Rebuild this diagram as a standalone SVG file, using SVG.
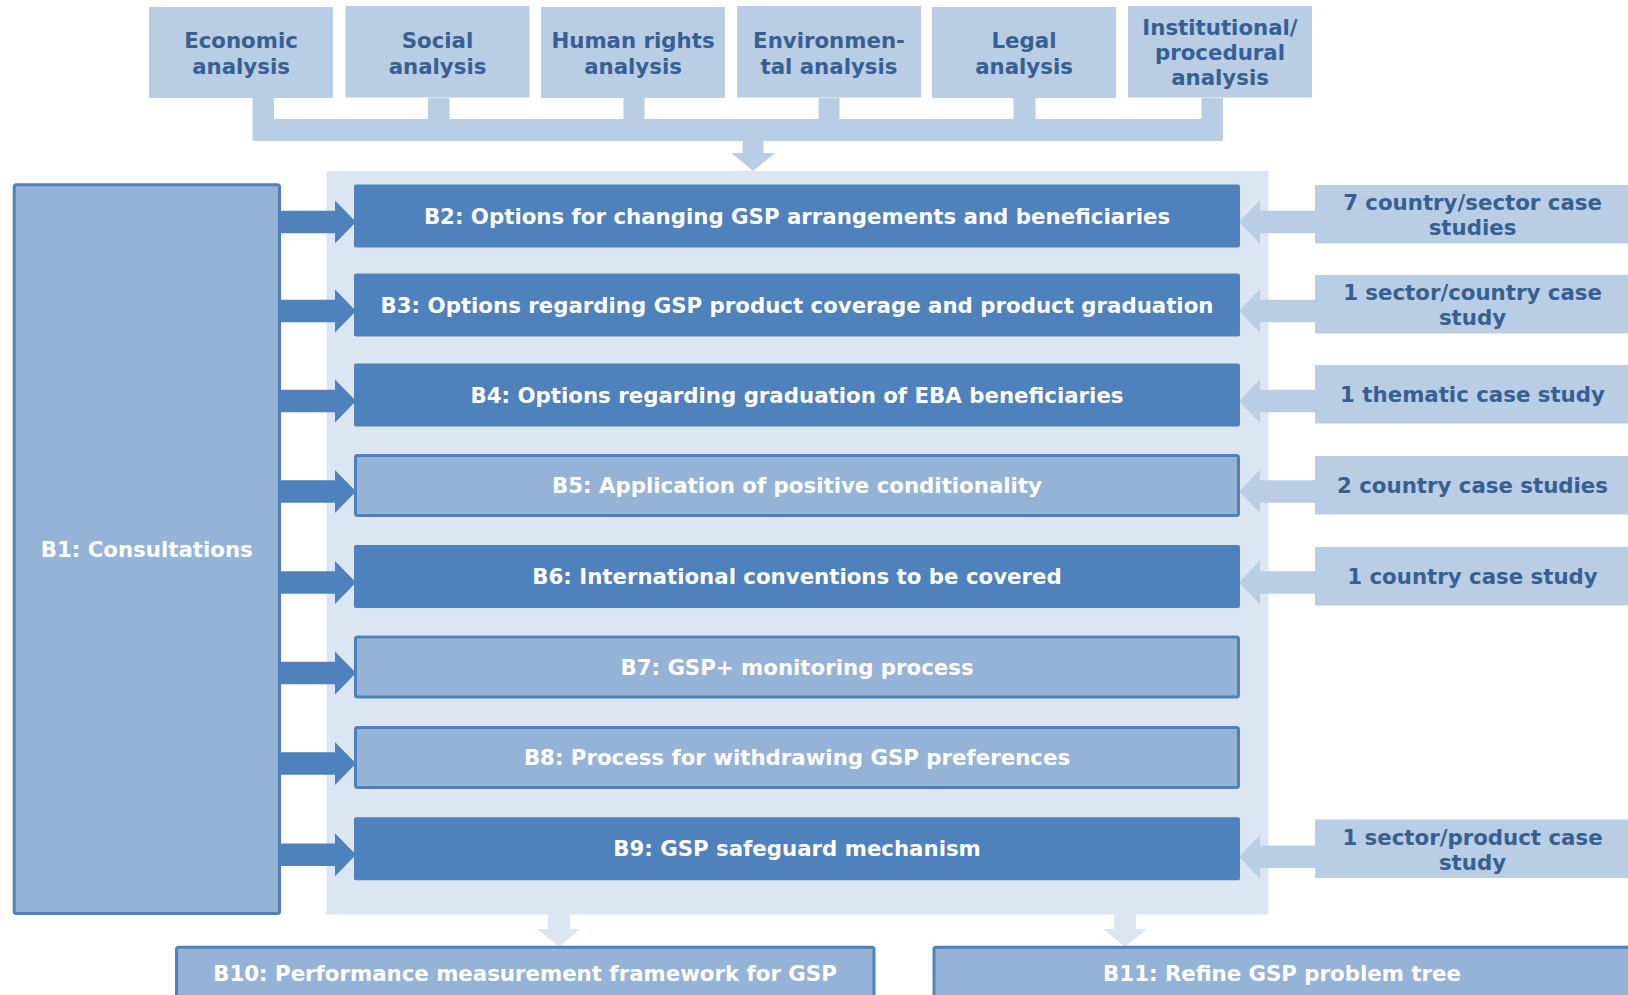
<svg xmlns="http://www.w3.org/2000/svg" width="1628" height="995" viewBox="0 0 1628 995">
<style>
text{font-family:"DejaVu Sans",Verdana,sans-serif;font-weight:bold;font-size:21.3px;text-anchor:middle}
.top{fill:#b9cde5}
.tt{fill:#376092}
.dark{fill:#4f81bd}
.light{fill:#95b3d7;stroke:#4f81bd;stroke-width:3}
.wt{fill:#ffffff}
.conn-in{fill:#4f81bd}
.conn-case{fill:#b9cde5}
.conn-pale{fill:#dce6f2}
</style>
<rect width="1628" height="995" fill="#ffffff"/>
<g id="panel"><rect x="326.5" y="171" width="942" height="743.5" fill="#dce6f2"/></g>
<g id="connectors">
<path class="top" d="M252.5,98 H274 V119 H428 V98 H449.5 V119 H623.5 V98 H644.5 V119 H818.5 V98 H839.5 V119 H1013.5 V98 H1035.5 V119 H1201.5 V98 H1223 V141 H763.5 V153 H775 L753,171 L731.5,153 H742.5 V141 H252.5 Z"/>
<g class="conn-in">
<path d="M281,210.8 H335 V200.5 L356,222 L335,243.5 V233.2 H281 Z"/>
<path d="M281,299.8 H335 V289.5 L356,311 L335,332.5 V322.2 H281 Z"/>
<path d="M281,389.8 H335 V379.5 L356,401 L335,422.5 V412.2 H281 Z"/>
<path d="M281,480.3 H335 V470 L356,491.5 L335,513 V502.7 H281 Z"/>
<path d="M281,571.3 H335 V561 L356,582.5 L335,604 V593.7 H281 Z"/>
<path d="M281,661.8 H335 V651.5 L356,673 L335,694.5 V684.2 H281 Z"/>
<path d="M281,752.3 H335 V742 L356,763.5 L335,785 V774.7 H281 Z"/>
<path d="M281,843.6 H335 V833.3 L356,854.8 L335,876.3 V866 H281 Z"/>
</g>
<g class="conn-case">
<path d="M1316,210.8 H1260 V200.3 L1239,222 L1260,243.7 V233.2 H1316 Z"/>
<path d="M1316,299.8 H1260 V289.3 L1239,311 L1260,332.7 V322.2 H1316 Z"/>
<path d="M1316,389.8 H1260 V379.3 L1239,401 L1260,422.7 V412.2 H1316 Z"/>
<path d="M1316,480.3 H1260 V469.8 L1239,491.5 L1260,513.2 V502.7 H1316 Z"/>
<path d="M1316,571.3 H1260 V560.8 L1239,582.5 L1260,604.2 V593.7 H1316 Z"/>
<path d="M1316,845.6 H1260 V835.1 L1239,856.8 L1260,878.5 V868 H1316 Z"/>
</g>
<g class="conn-pale">
<path d="M548,914 H570 V929 H580 L559,946.7 L537,929 H548 Z"/>
<path d="M1114,914 H1136 V929 H1147 L1125,946.7 L1103,929 H1114 Z"/>
</g>
</g>
<g id="economic"><rect class="top" x="149" y="7" width="184" height="91"/><text class="tt" x="241" y="48.3">Economic</text><text class="tt" x="241" y="74.3">analysis</text></g>
<g id="social"><rect class="top" x="345.5" y="6" width="184" height="91.5"/><text class="tt" x="437.5" y="48.3">Social</text><text class="tt" x="437.5" y="74.3">analysis</text></g>
<g id="human-rights"><rect class="top" x="541" y="7" width="184" height="91"/><text class="tt" x="633" y="48.3">Human rights</text><text class="tt" x="633" y="74.3">analysis</text></g>
<g id="environmental"><rect class="top" x="737" y="6" width="184" height="91.5"/><text class="tt" x="829" y="48.3">Environmen-</text><text class="tt" x="829" y="74.3">tal analysis</text></g>
<g id="legal"><rect class="top" x="932" y="7" width="184" height="91"/><text class="tt" x="1024" y="48.3">Legal</text><text class="tt" x="1024" y="74.3">analysis</text></g>
<g id="institutional"><rect class="top" x="1128" y="6" width="184" height="91.5"/><text class="tt" x="1220" y="35">Institutional/</text><text class="tt" x="1220" y="60">procedural</text><text class="tt" x="1220" y="85">analysis</text></g>
<g id="b1"><rect class="light" x="14.2" y="184.8" width="265.3" height="728.7" rx="2"/><text class="wt" x="146.7" y="556.7">B1: Consultations</text></g>
<g id="b2"><rect class="dark" x="354" y="184.5" width="886" height="63" rx="2"/><text class="wt" x="797" y="223.5">B2: Options for changing GSP arrangements and beneficiaries</text></g>
<g id="b3"><rect class="dark" x="354" y="273.5" width="886" height="63" rx="2"/><text class="wt" x="797" y="312.5">B3: Options regarding GSP product coverage and product graduation</text></g>
<g id="b4"><rect class="dark" x="354" y="363.5" width="886" height="63" rx="2"/><text class="wt" x="797" y="402.5">B4: Options regarding graduation of EBA beneficiaries</text></g>
<g id="b5"><rect class="light" x="355.5" y="455.5" width="883" height="60" rx="2"/><text class="wt" x="797" y="493">B5: Application of positive conditionality</text></g>
<g id="b6"><rect class="dark" x="354" y="545" width="886" height="63" rx="2"/><text class="wt" x="797" y="584">B6: International conventions to be covered</text></g>
<g id="b7"><rect class="light" x="355.5" y="637" width="883" height="60" rx="2"/><text class="wt" x="797" y="674.5">B7: GSP+ monitoring process</text></g>
<g id="b8"><rect class="light" x="355.5" y="727.5" width="883" height="60" rx="2"/><text class="wt" x="797" y="765">B8: Process for withdrawing GSP preferences</text></g>
<g id="b9"><rect class="dark" x="354" y="817.3" width="886" height="63" rx="2"/><text class="wt" x="797" y="856.3">B9: GSP safeguard mechanism</text></g>
<g id="case-b2"><rect class="top" x="1315" y="185" width="315" height="58.5"/><text class="tt" x="1472.5" y="210">7 country/sector case</text><text class="tt" x="1472.5" y="235">studies</text></g>
<g id="case-b3"><rect class="top" x="1315" y="275" width="315" height="58.5"/><text class="tt" x="1472.5" y="300">1 sector/country case</text><text class="tt" x="1472.5" y="325">study</text></g>
<g id="case-b4"><rect class="top" x="1315" y="365" width="315" height="58.5"/><text class="tt" x="1472.5" y="401.7">1 thematic case study</text></g>
<g id="case-b5"><rect class="top" x="1315" y="456" width="315" height="58.5"/><text class="tt" x="1472.5" y="492.7">2 country case studies</text></g>
<g id="case-b6"><rect class="top" x="1315" y="547" width="315" height="58.5"/><text class="tt" x="1472.5" y="583.7">1 country case study</text></g>
<g id="case-b9"><rect class="top" x="1315" y="819.5" width="315" height="58.5"/><text class="tt" x="1472.5" y="844.5">1 sector/product case</text><text class="tt" x="1472.5" y="869.5">study</text></g>
<g id="b10"><rect class="light" x="176.5" y="947.2" width="697.5" height="60" rx="2"/><text class="wt" x="525" y="980.7">B10: Performance measurement framework for GSP</text></g>
<g id="b11"><rect class="light" x="934" y="947.2" width="697.5" height="60" rx="2"/><text class="wt" x="1282" y="980.7">B11: Refine GSP problem tree</text></g>
</svg>
